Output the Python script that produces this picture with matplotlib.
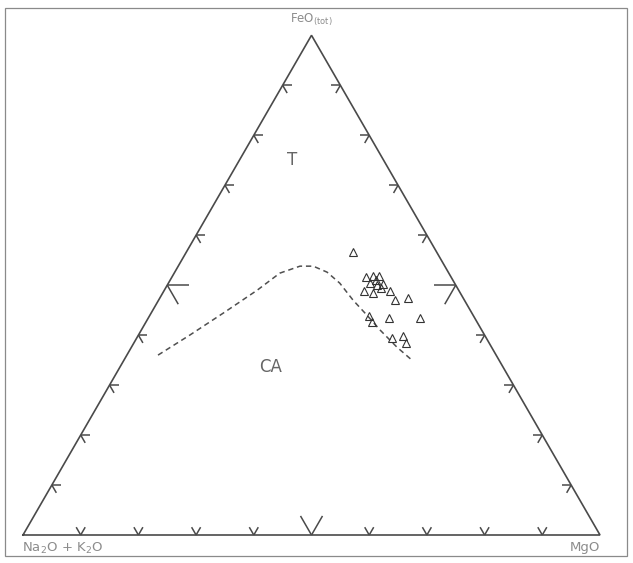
"""AFM ternary diagram (Irvine & Baragar) with tholeiitic / calc-alkaline divide."""
import numpy as np
import matplotlib
matplotlib.use("Agg")
import matplotlib.pyplot as plt
from matplotlib.patches import Rectangle

# sample compositions, wt% normalised: FeO(tot), Na2O+K2O, MgO
feo = [56.6, 51.6, 51.8, 51.8, 50.4, 50.0, 49.4, 48.8, 48.4, 48.8, 47.0,
       47.4, 43.8, 42.6, 43.4, 43.4, 39.4, 39.8, 38.4, 51.0, 50.2]
alk = [14.5, 14.8, 13.4, 12.4, 14.7, 13.6, 13.3, 16.5, 15.1, 12.0, 12.0,
       9.6, 18.1, 18.2, 14.9, 9.5, 16.3, 14.2, 14.4, 13.3, 12.5]
mgo = [28.9, 33.6, 34.8, 35.8, 34.9, 36.4, 37.3, 34.7, 36.5, 39.2, 41.0,
       43.0, 38.1, 39.2, 41.7, 47.1, 44.3, 46.0, 47.2, 35.7, 37.3]

# boundary curve T / CA
div_feo = [36.0, 40.0, 44.4, 49.0, 52.4, 53.8, 53.8, 52.6, 50.4, 47.0, 44.0, 41.0, 37.6, 35.0]
div_alk = [58.6, 51.1, 43.1, 34.9, 29.3, 25.1, 22.8, 21.0, 19.9, 19.3, 18.4, 17.6, 16.4, 15.1]
div_mgo = [5.4, 8.9, 12.5, 16.1, 18.3, 21.1, 23.4, 26.4, 29.7, 33.7, 37.6, 41.4, 46.0, 49.9]

INK = "#4a4a4a"
LBL = "#8c8c8c"
H = np.sqrt(3) / 2


def to_xy(f, a, m):
    f, a, m = np.asarray(f, float), np.asarray(a, float), np.asarray(m, float)
    s = f + a + m
    f, m = f / s, m / s
    return m + f / 2, f * H


W, HT = 633, 563
fig = plt.figure(figsize=(W / 100, HT / 100), dpi=100)
ax = fig.add_axes([0, 0, 1, 1])
S = 577.0  # px per unit side
ax.set_xlim(-23 / S, (W - 23) / S)
ax.set_ylim(-(HT - 535) / S, 535 / S)
ax.axis("off")

# outer frame
fig.add_artist(Rectangle((5 / W, 7 / HT), 622 / W, 548 / HT, transform=fig.transFigure,
                         fill=False, ec="#8a8a8a", lw=0.9))

# triangle
corners = np.array([[0, 0], [1, 0], [0.5, H], [0, 0]])
ax.plot(corners[:, 0], corners[:, 1], color=INK, lw=1.2, solid_joinstyle="miter")

# ticks: two arms along the other two edge directions, pointing inward
edges = [
    ((0, 0), (1, 0), (60, 120)),        # bottom
    ((0, 0), (0.5, H), (0, -60)),       # left
    ((1, 0), (0.5, H), (180, 240)),     # right
]
for p0, p1, angs in edges:
    for i in range(1, 10):
        t = i / 10
        px = p0[0] + (p1[0] - p0[0]) * t
        py = p0[1] + (p1[1] - p0[1]) * t
        L = 22 / S if i == 5 else 9 / S
        for a in angs:
            r = np.radians(a)
            ax.plot([px, px + L * np.cos(r)], [py, py + L * np.sin(r)],
                    color=INK, lw=1.1, solid_capstyle="butt")

# T / CA divide
dx, dy = to_xy(div_feo, div_alk, div_mgo)
ax.plot(dx, dy, color="#4f4f4f", lw=1.1, ls=(0, (3.5, 2.5)))

# samples
sx, sy = to_xy(feo, alk, mgo)
ax.plot(sx, sy, ls="none", marker="^", ms=5.5, mfc="none", mec="#333333", mew=0.8)

# field labels
tx, ty = to_xy(75, 15.9, 9.1)
ax.text(tx, ty, "T", ha="center", va="center", fontsize=12, color="#666666")
cx, cy = to_xy(33.6, 40.3, 26.1)
ax.text(cx, cy, "CA", ha="center", va="center", fontsize=12, color="#666666")

# apex labels
ax.text(0.5, H + 0.012, r"FeO$_{\mathregular{(tot)}}$", ha="center", va="bottom",
        fontsize=8.5, color=LBL)
ax.text(-0.002, -0.01, r"Na$_2$O + K$_2$O", ha="left", va="top", fontsize=9.5, color=LBL)
ax.text(1.0, -0.01, "MgO", ha="right", va="top", fontsize=9.5, color=LBL)

fig.savefig("out.png", dpi=100)
